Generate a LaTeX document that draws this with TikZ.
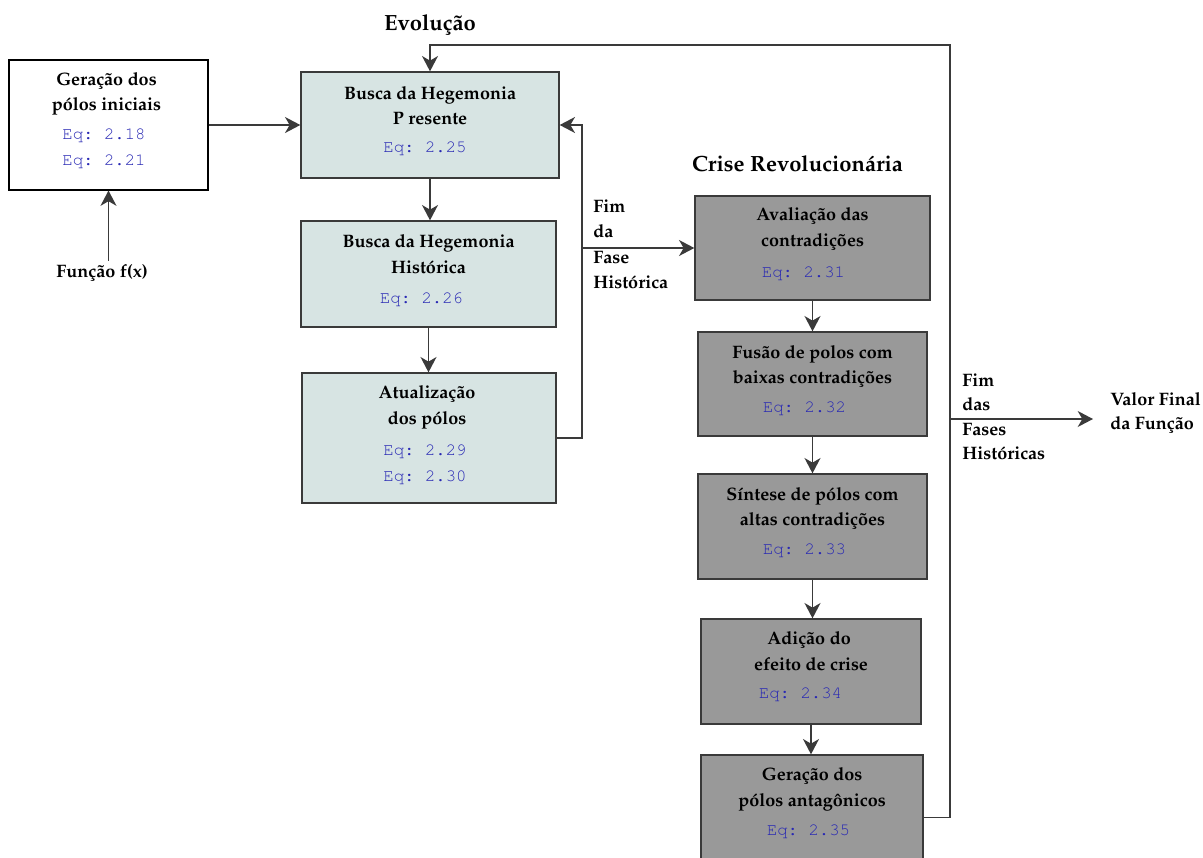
\documentclass[tikz,border=0pt]{standalone}
\usepackage[T1]{fontenc}
\renewcommand{\rmdefault}{ppl}
\renewcommand{\ttdefault}{pcr}
\usetikzlibrary{arrows.meta}
\definecolor{evofill}{HTML}{D7E4E3}
\definecolor{crisefill}{HTML}{999999}
\definecolor{eqblue}{HTML}{2828B4}
\definecolor{edge}{HTML}{3A3A3A}
\tikzset{
  box/.style={draw=edge, line width=1pt, rectangle, inner sep=0pt},
  startbox/.style={box, draw=black, line width=0.8pt, fill=white},
  evo/.style={box, fill=evofill},
  crise/.style={box, fill=crisefill},
  head/.style={font=\fontsize{13.5}{16}\selectfont\bfseries, anchor=base, inner sep=0pt},
  sidelbl/.style={head, anchor=base west},
  eq/.style={font=\fontsize{13}{15}\selectfont\ttfamily\frenchspacing, text=eqblue, anchor=base, inner sep=0pt},
  phase/.style={font=\fontsize{16.5}{19}\selectfont\bfseries, anchor=base, inner sep=0pt},
  wire/.style={draw=edge, line width=1pt},
  flow/.style={wire, -{Stealth[length=11.5pt,width=12pt,inset=3.5pt]}}
}
\begin{document}
\begin{tikzpicture}[x=0.75pt,y=-0.75pt]
\useasboundingbox (0,0) rectangle (1203,857);
\clip (0,0) rectangle (1203,857);

% phase titles
\node[phase] (tevo) at (430,30) {Evolu\c{c}\~ao};
\node[phase] (tcrise) at (797.5,171) {Crise Revolucion\'aria};

% initial poles
\node[startbox, minimum width=149.25pt, minimum height=97.5pt] (g0) at (108.5,125) {};
\node[head] (g0a) at (106.5,85) {Gera\c{c}\~ao dos};
\node[head] (g0b) at (106.5,110) {p\'olos iniciais};
\node[eq] (g0c) at (104,139) {Eq: 2.18};
\node[eq] (g0d) at (104,165) {Eq: 2.21};
\node[head] (fx) at (102,277) {Fun\c{c}\~ao f(x)};

% evolution
\node[evo, minimum width=193.5pt, minimum height=79.5pt] (b1) at (430,125) {};
\node[head] (b1a) at (430,99) {Busca da Hegemonia};
\node[head] (b1b) at (430,124) {P resente};
\node[eq] (b1c) at (425,152) {Eq: 2.25};

\node[evo, minimum width=191.25pt, minimum height=79.5pt] (b2) at (428.5,274) {};
\node[head] (b2a) at (428.5,247) {Busca da Hegemonia};
\node[head] (b2b) at (428.5,273) {Hist\'orica};
\node[eq] (b2c) at (421.5,303) {Eq: 2.26};

\node[evo, minimum width=190.5pt, minimum height=97.5pt] (b3) at (429,438) {};
\node[head] (b3a) at (427,398) {Atualiza\c{c}\~ao};
\node[head] (b3b) at (427,424) {dos p\'olos};
\node[eq] (b3c) at (425,455) {Eq: 2.29};
\node[eq] (b3d) at (425,481) {Eq: 2.30};

% revolutionary crisis
\node[crise, minimum width=176.25pt, minimum height=78pt] (c1) at (812.5,248) {};
\node[head] (c1a) at (812.5,220) {Avalia\c{c}\~ao das};
\node[head] (c1b) at (812.5,246) {contradi\c{c}\~oes};
\node[eq] (c1c) at (803.5,277) {Eq: 2.31};

\node[crise, minimum width=171.75pt, minimum height=78pt] (c2) at (812.5,384) {};
\node[head] (c2a) at (812.5,358) {Fus\~ao de polos com};
\node[head] (c2b) at (812.5,383) {baixas contradi\c{c}\~oes};
\node[eq] (c2c) at (804.5,412) {Eq: 2.32};

\node[crise, minimum width=171.75pt, minimum height=78.75pt] (c3) at (812.5,526.5) {};
\node[head] (c3a) at (812.5,500) {S\'{\i}ntese de p\'olos com};
\node[head] (c3b) at (812.5,525) {altas contradi\c{c}\~oes};
\node[eq] (c3c) at (804.5,554) {Eq: 2.33};

\node[crise, minimum width=165pt, minimum height=78.75pt] (c4) at (811,671.5) {};
\node[head] (c4a) at (809,644) {Adi\c{c}\~ao do};
\node[head] (c4b) at (811,670) {efeito de crise};
\node[eq] (c4c) at (800.5,698) {Eq: 2.34};

\node[crise, minimum width=166.5pt, minimum height=93.75pt] (c5) at (812,817.5) {};
\node[head] (c5a) at (812,780) {Gera\c{c}\~ao dos};
\node[head] (c5b) at (812,806) {p\'olos antag\^onicos};
\node[eq] (c5c) at (808.5,835) {Eq: 2.35};

% side labels
\node[sidelbl] (f1) at (593,212) {Fim};
\node[sidelbl] (f2) at (593,237.5) {da};
\node[sidelbl] (f3) at (593,263) {Fase};
\node[sidelbl] (f4) at (593,288) {Hist\'orica};

\node[sidelbl] (h1) at (962,386) {Fim};
\node[sidelbl] (h2) at (962,410.5) {das};
\node[sidelbl] (h3) at (962,435) {Fases};
\node[sidelbl] (h4) at (962,459.5) {Hist\'oricas};

\node[sidelbl] (v1) at (1110,405) {Valor Final};
\node[sidelbl] (v2) at (1110,429) {da Fun\c{c}\~ao};

% routing points
\coordinate (evoloop) at (582,438);
\coordinate (evotop) at (582,125);
\coordinate (tap) at (582,248);
\coordinate (crloop) at (950,817.5);
\coordinate (crtop) at (950,45);
\coordinate (evoin) at (430,45);
\coordinate (exitsrc) at (950,419);
\coordinate (exit) at (1093,419);

% connectors
\draw[flow] (g0.south |- fx.north) ++(0,-3) -- (g0.south);
\draw[flow] (g0.east) -- (b1.west);
\draw[flow] (b1.south) -- (b1.south |- b2.north);
\draw[flow] (b2.south) -- (b2.south |- b3.north);
\draw[flow] (b3.east |- evoloop) -- (evoloop) -- (evotop) -- (b1.east);
\draw[flow] (tap) -- (c1.west |- tap);
\draw[flow] (c1.south) -- (c1.south |- c2.north);
\draw[flow] (c2.south) -- (c2.south |- c3.north);
\draw[flow] (c3.south) -- (c3.south |- c4.north);
\draw[flow] (c4.south) -- (c4.south |- c5.north);
\draw[flow] (c5.east |- crloop) -- (crloop) -- (crtop) -- (evoin) -- (b1.north);
\draw[flow] (exitsrc) -- (exit);
\end{tikzpicture}
\end{document}
